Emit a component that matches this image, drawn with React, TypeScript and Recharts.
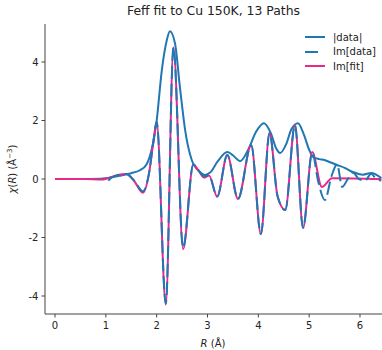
import { LineChart, Line, XAxis, YAxis } from "recharts";

// |data| magnitude
const absR = [0, 0.5, 0.9, 1.1, 1.3, 1.5, 1.67, 1.8, 1.9, 2.0, 2.1, 2.2, 2.26, 2.36, 2.46, 2.56, 2.69, 2.85, 2.95, 3.05, 3.2, 3.39, 3.52, 3.64, 3.8, 3.95, 4.11, 4.25, 4.35, 4.43, 4.55, 4.65, 4.78, 4.9, 5.0, 5.08, 5.2, 5.3, 5.4, 5.55, 5.7, 5.86, 6.06, 6.22, 6.42];
const absV = [0, 0, 0.01, 0.05, 0.12, 0.2, 0.3, 0.5, 1.0, 2.0, 3.7, 4.75, 5.05, 4.64, 3.1, 1.67, 0.65, 0.24, 0.14, 0.22, 0.6, 0.92, 0.78, 0.61, 1.0, 1.6, 1.91, 1.55, 1.05, 0.89, 1.2, 1.7, 1.91, 1.5, 1.0, 0.75, 0.68, 0.65, 0.58, 0.48, 0.38, 0.24, 0.15, 0.21, 0.03];

// Im[data]
const imR = [1.05, 1.1, 1.22, 1.4, 1.55, 1.73, 1.85, 1.93, 2.0, 2.18, 2.33, 2.52, 2.72, 2.82, 2.93, 3.03, 3.19, 3.39, 3.6, 3.86, 4.05, 4.22, 4.38, 4.53, 4.72, 4.88, 5.06, 5.18, 5.31, 5.44, 5.55, 5.65, 5.76, 5.86, 5.98, 6.1, 6.22, 6.32, 6.42];
const imV = [-0.06, 0.04, 0.12, 0.17, -0.04, -0.42, 0.2, 1.2, 1.95, -4.25, 4.5, -2.35, 0.5, 0.3, 0.1, 0.12, -0.6, 0.82, -0.68, 1.16, -1.88, 1.57, -0.6, -1.06, 1.84, -1.67, 0.9, -0.1, -0.72, 0.1, 0.5, -0.27, 0.0, 0.22, 0.0, -0.05, 0.18, 0.0, -0.05];

// Im[fit]
const fitR = [0, 0.6, 0.9, 1.05, 1.22, 1.4, 1.55, 1.73, 1.85, 1.93, 2.0, 2.18, 2.33, 2.52, 2.72, 2.82, 2.93, 3.03, 3.19, 3.39, 3.6, 3.86, 4.05, 4.22, 4.38, 4.53, 4.72, 4.88, 5.06, 5.25, 5.45, 6.42];
const fitV = [0, 0, -0.02, 0.03, 0.13, 0.17, -0.05, -0.47, 0.2, 1.2, 1.95, -4.3, 4.5, -2.4, 0.5, 0.3, 0.05, 0.12, -0.6, 0.82, -0.68, 1.16, -1.88, 1.57, -0.6, -1.06, 1.84, -1.67, 0.92, -0.27, 0.03, 0.0];

const xTicks = [0, 1, 2, 3, 4, 5, 6];
const yTicks = [-4, -2, 0, 2, 4];

const BLUE = "#1f77b4";
const PINK = "#e7298a";
const FONT = "DejaVu Sans";

const toPoints = (xs: number[], ys: number[]) => xs.map((r, i) => ({ r, v: ys[i] }));

const legendItems = [
  { name: "|data|", color: BLUE, dash: undefined },
  { name: "Im[data]", color: BLUE, dash: "13 10" },
  { name: "Im[fit]", color: PINK, dash: undefined },
];

const LegendBox = () => (
  <div style={{ position: "absolute", top: 30, left: 304, fontFamily: FONT, fontSize: 10, color: "#222" }}>
    {legendItems.map((it) => (
      <div key={it.name} style={{ display: "flex", alignItems: "center", height: 14.5 }}>
        <svg width={22} height={6} style={{ marginRight: 7 }}>
          <line x1={1} y1={3} x2={21} y2={3} stroke={it.color} strokeWidth={2} strokeDasharray={it.dash} />
        </svg>
        <span>{it.name}</span>
      </div>
    ))}
  </div>
);

const App = () => {
  return (
    <div style={{ position: "absolute", left: 0, top: 0, width: 382, height: 350, background: "#fff" }}>
      <div
        style={{
          position: "absolute",
          top: 3,
          left: 45,
          width: 337,
          textAlign: "center",
          fontFamily: FONT,
          fontSize: 12.4,
          color: "#222",
        }}
      >
        Feff fit to Cu 150K, 13 Paths
      </div>
      <LineChart width={382} height={350} margin={{ top: 24, right: 0, bottom: 0, left: 0 }}>
        <XAxis
          type="number"
          dataKey="r"
          domain={[-0.197, 6.433]}
          ticks={xTicks}
          allowDataOverflow
          height={36}
          stroke="#444"
          tickSize={3.5}
          tickMargin={4}
          tick={{ fontSize: 10, fill: "#222", fontFamily: FONT }}
          label={{
            content: () => (
              <text x={213} y={347} textAnchor="middle" fontSize={10} fill="#222" fontFamily={FONT}>
                <tspan fontStyle="italic">R</tspan> (Å)
              </text>
            ),
          }}
        />
        <YAxis
          type="number"
          domain={[-4.615, 5.3]}
          ticks={yTicks}
          allowDataOverflow
          width={45}
          stroke="#444"
          tickSize={3.5}
          tickMargin={3}
          tick={{ fontSize: 10, fill: "#222", fontFamily: FONT }}
          label={{
            content: () => (
              <text transform="translate(16,169) rotate(-90)" textAnchor="middle" fontSize={10} fill="#222" fontFamily={FONT}>
                <tspan fontStyle="italic">χ</tspan>(<tspan fontStyle="italic">R</tspan>) (Å
                <tspan dy={-4} fontSize={7}>−3</tspan>
                <tspan dy={4}>)</tspan>
              </text>
            ),
          }}
        />
        <Line
          data={toPoints(absR, absV)}
          dataKey="v"
          name="|data|"
          type="monotone"
          stroke={BLUE}
          strokeWidth={2}
          dot={false}
          isAnimationActive={false}
        />
        <Line
          data={toPoints(fitR, fitV)}
          dataKey="v"
          name="Im[fit]"
          type="monotone"
          stroke={PINK}
          strokeWidth={2}
          dot={false}
          isAnimationActive={false}
        />
        <Line
          data={toPoints(imR, imV)}
          dataKey="v"
          name="Im[data]"
          type="monotone"
          stroke={BLUE}
          strokeWidth={2}
          strokeDasharray="13 5"
          dot={false}
          isAnimationActive={false}
        />
      </LineChart>
      <LegendBox />
    </div>
  );
};

export default App;
